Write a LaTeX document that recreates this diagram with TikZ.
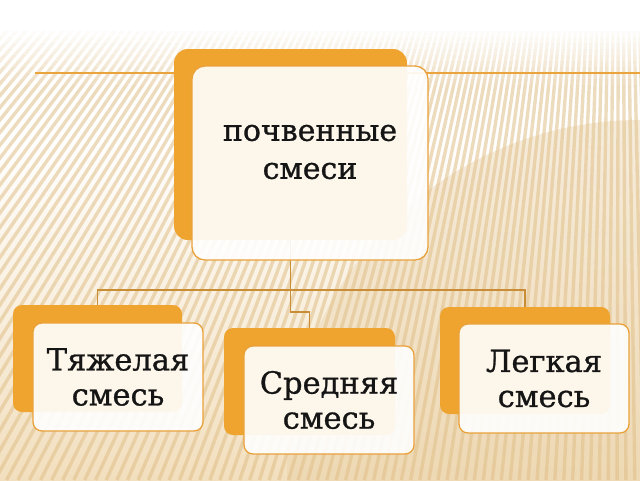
\documentclass[tikz,border=0pt]{standalone}
\usepackage{fontspec}
\setmainfont{DejaVu Serif}
\newfontfamily\boxfont{DejaVu Serif}[FakeBold=0.9]
\definecolor{bgtan}{HTML}{F2DFBE}
\definecolor{bgtan2}{HTML}{E9D0A6}
\definecolor{stripec}{HTML}{E0BF88}
\definecolor{orangeback}{HTML}{EFA42F}
\definecolor{frontborder}{HTML}{E9A13A}
\definecolor{connc}{HTML}{C98E35}
\definecolor{linec}{HTML}{E9A43E}
\definecolor{txt}{HTML}{151515}
\pgfdeclarelayer{bglayer}
\pgfdeclarelayer{connlayer}
\pgfsetlayers{bglayer,connlayer,main}
\tikzset{
  backbox/.style={rectangle, fill=orangeback, draw=none, rounded corners=#1, inner sep=0pt},
  backbox/.default=9pt,
  frontbox/.style={rectangle, fill=white, fill opacity=0.9, text opacity=1, draw=frontborder, line width=1.3pt, rounded corners=#1, inner sep=0pt, text=txt, align=center, font=\boxfont\fontsize{30.5}{35}\selectfont},
  frontbox/.default=9pt,
  lbl/.style={text=txt, align=center, font=\boxfont\fontsize{30}{38}\selectfont, inner sep=0pt},
  conn/.style={draw=connc, line width=1.1pt},
  topline/.style={draw=linec, line width=1.3pt},
  stripe/.style={draw=stripec, line width=3.4pt, opacity=0.55}
}
\begin{document}
\begin{tikzpicture}[x=1pt,y=-1pt]
\useasboundingbox (0,0) rectangle (640,480);
% boxes
\node[backbox=14pt, minimum width=233pt, minimum height=191pt] (topback) at (290.5,144.5) {};
\node[frontbox=13pt, minimum width=236pt, minimum height=194pt] (top) at (310,163) {};
\node[lbl] (toplbl) at ([yshift=11pt]top.center) {почвенные\\смеси};
\node[backbox, minimum width=169pt, minimum height=107pt] (lback) at (97.5,358.5) {};
\node[frontbox, minimum width=170pt, minimum height=108pt] (left) at (118,377) {Тяжелая\\смесь};
\node[backbox, minimum width=171pt, minimum height=107pt] (mback) at (309.5,381.5) {};
\node[frontbox, minimum width=170pt, minimum height=108pt] (mid) at (329,400) {Средняя\\смесь};
\node[backbox, minimum width=170pt, minimum height=107pt] (rback) at (525,360.5) {};
\node[frontbox, minimum width=170pt, minimum height=109pt] (right) at (544,378.5) {Легкая\\смесь};
% background
\begin{pgfonlayer}{bglayer}
\fill[white] (0,0) rectangle (640,480);
\shade[top color=white, bottom color=bgtan] (0,140) rectangle (640,480);
\fill[bgtan2, opacity=0.4] (640,473) circle (353pt);
\begin{scope}
  \clip (0,25) rectangle (640,480);
  \foreach \a in {-3,-2.55,...,46} {
    \draw[stripe] (620,-650) -- ({620-1130*tan(\a)},480);
  }
\end{scope}
\foreach \i [evaluate=\i as \op using {1-\i/10}] in {0,...,9} {
  \fill[white, opacity=\op] (0,{25+\i*6}) rectangle (640,{31+\i*6});
}
\end{pgfonlayer}
% connectors
\begin{pgfonlayer}{connlayer}
\coordinate (hl) at (35,73);
\coordinate (hr) at (640,73);
\draw[topline] (hl) -- (hr);
\coordinate (j) at (290.5,290);
\draw[conn] (topback.south) -- (j) -| (lback.north);
\draw[conn] (j) -| (rback.north);
\draw[conn] (j) -- ++(0,22) -| (mback.north);
\end{pgfonlayer}
\end{tikzpicture}
\end{document}
